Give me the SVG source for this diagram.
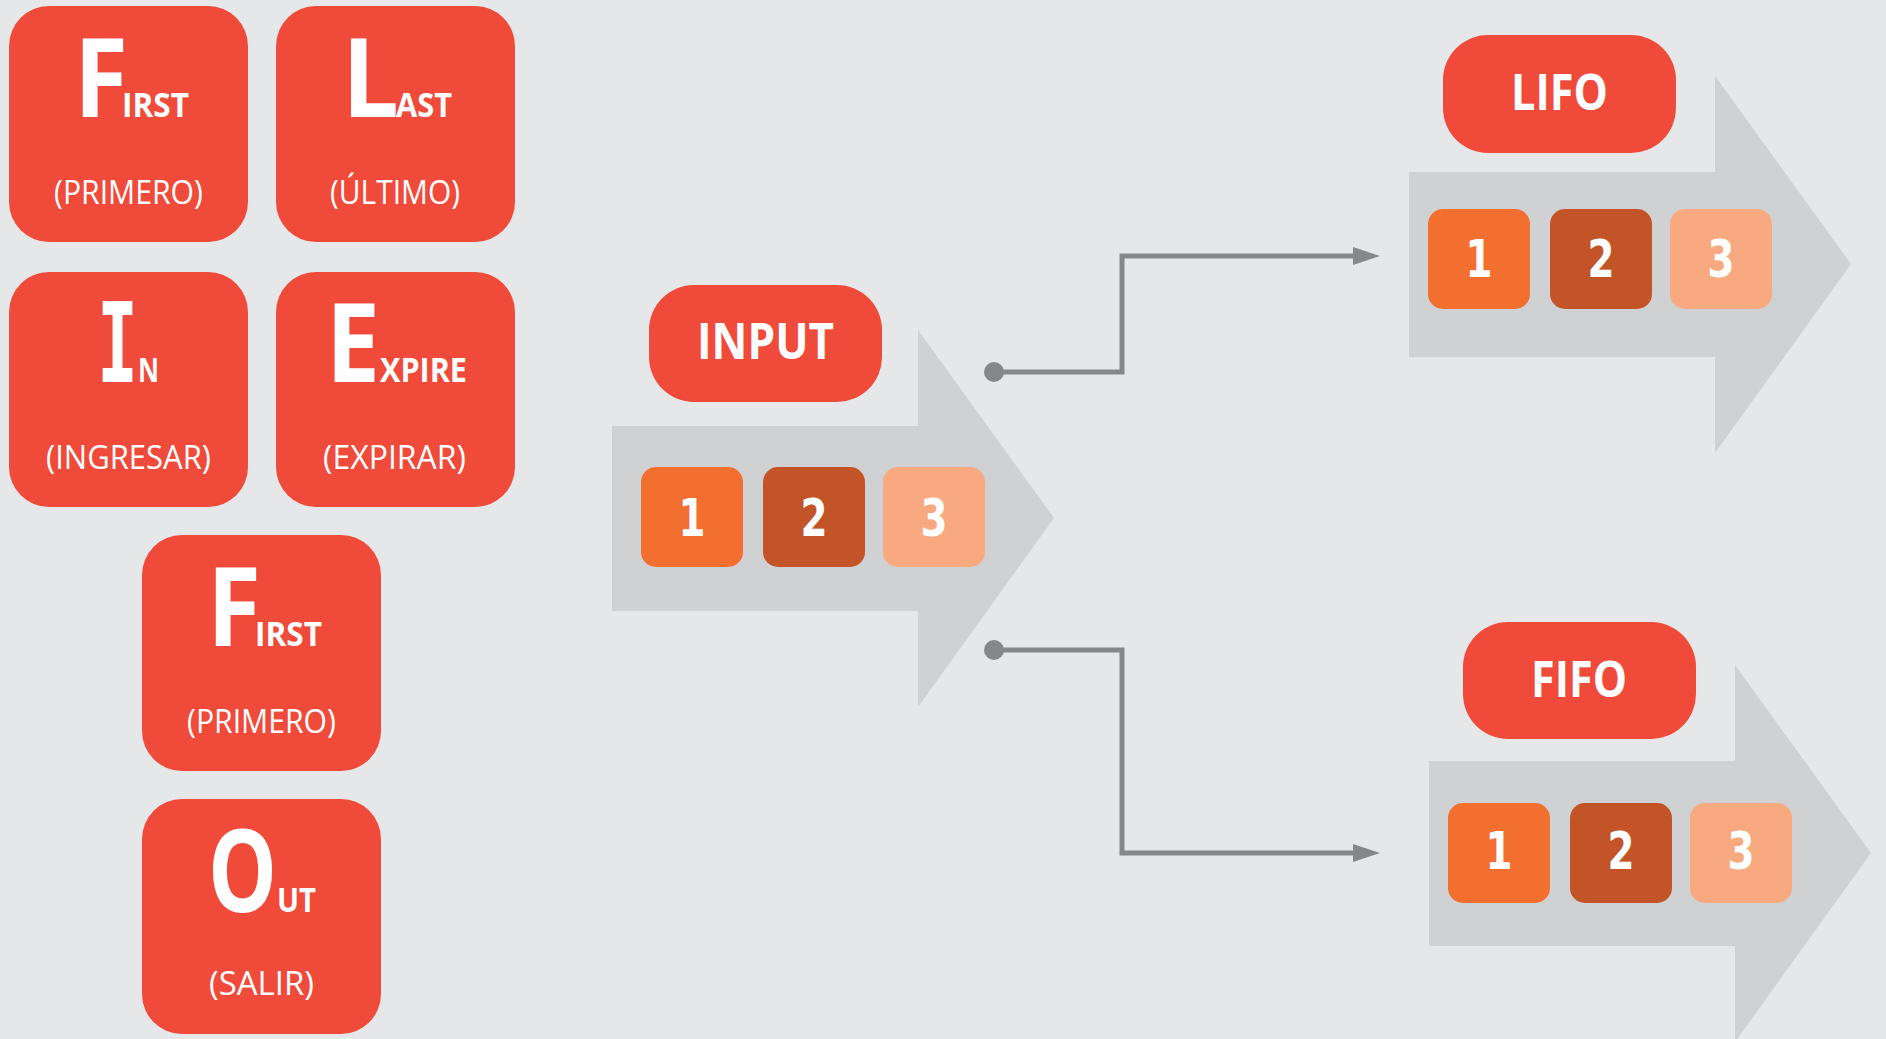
<svg xmlns="http://www.w3.org/2000/svg" xmlns:xlink="http://www.w3.org/1999/xlink" width="1886" height="1039" viewBox="0 0 1886 1039">
<style>
.card{fill:#f04b3a}
.big{fill:#fff;font-family:"Open Sans","Liberation Sans",sans-serif;font-weight:700;font-size:110px}
.bigm{fill:#fff;font-family:"DejaVu Sans Mono","Liberation Mono",monospace;font-weight:700;font-size:110px}
.sc{fill:#fff;font-family:"Open Sans","Liberation Sans",sans-serif;font-weight:700;font-size:34px}
.sub{fill:#fff;font-family:"Open Sans","Liberation Sans",sans-serif;font-weight:400;font-size:33px}
.lbl{fill:#fff;font-family:"Open Sans","Liberation Sans",sans-serif;font-weight:700;font-size:50px}
.num{fill:#fff;font-family:"DejaVu Sans","Liberation Sans",sans-serif;font-weight:700;font-size:52px;text-anchor:middle}
.band{fill:#d0d1d3}
.t1{fill:#f26f30}.t2{fill:#c25427}.t3{fill:#f8a97f}
.conn{fill:none;stroke:#85878a;stroke-width:5}
.dot{fill:#85878a}
</style>
<defs>
<path id="arr" d="M0,0 H306 V-96 L442,92 L306,281 V185 H0 Z"/>
<marker id="head" markerUnits="userSpaceOnUse" markerWidth="27" markerHeight="20" refX="0" refY="10" orient="auto">
<path d="M0,1 L27,10 L0,19 Z" fill="#85878a"/>
</marker>
</defs>
<rect width="1886" height="1039" fill="#e6e7e9"/>

<g id="card-first">
<rect class="card" x="9" y="6" width="239" height="236" rx="40"/>
<text y="117"><tspan class="big" x="74" textLength="54" lengthAdjust="spacingAndGlyphs">F</tspan><tspan class="sc" x="122" textLength="67" lengthAdjust="spacingAndGlyphs">IRST</tspan></text>
<text class="sub" x="54" y="204" textLength="149" lengthAdjust="spacingAndGlyphs">(PRIMERO)</text>
</g>
<g id="card-last">
<rect class="card" x="276" y="6" width="239" height="236" rx="40"/>
<text y="117"><tspan class="big" x="342" textLength="57" lengthAdjust="spacingAndGlyphs">L</tspan><tspan class="sc" x="396" textLength="56" lengthAdjust="spacingAndGlyphs">AST</tspan></text>
<text class="sub" x="330" y="204" textLength="130" lengthAdjust="spacingAndGlyphs">(ÚLTIMO)</text>
</g>
<g id="card-in">
<rect class="card" x="9" y="272" width="239" height="235" rx="40"/>
<text y="382"><tspan class="bigm" x="97" textLength="41" lengthAdjust="spacingAndGlyphs">I</tspan><tspan class="sc" x="138" textLength="21" lengthAdjust="spacingAndGlyphs">N</tspan></text>
<text class="sub" x="46" y="469" textLength="165" lengthAdjust="spacingAndGlyphs">(INGRESAR)</text>
</g>
<g id="card-expire">
<rect class="card" x="276" y="272" width="239" height="235" rx="40"/>
<text y="382"><tspan class="big" x="326" textLength="54" lengthAdjust="spacingAndGlyphs">E</tspan><tspan class="sc" x="380" textLength="87" lengthAdjust="spacingAndGlyphs">XPIRE</tspan></text>
<text class="sub" x="323" y="469" textLength="143" lengthAdjust="spacingAndGlyphs">(EXPIRAR)</text>
</g>
<g id="card-first2">
<rect class="card" x="142" y="535" width="239" height="236" rx="40"/>
<text y="646"><tspan class="big" x="207" textLength="54" lengthAdjust="spacingAndGlyphs">F</tspan><tspan class="sc" x="255" textLength="67" lengthAdjust="spacingAndGlyphs">IRST</tspan></text>
<text class="sub" x="187" y="733" textLength="149" lengthAdjust="spacingAndGlyphs">(PRIMERO)</text>
</g>
<g id="card-out">
<rect class="card" x="142" y="799" width="239" height="235" rx="40"/>
<text y="912"><tspan class="big" x="208" textLength="69" lengthAdjust="spacingAndGlyphs" style="font-size:114px">O</tspan><tspan class="sc" x="277" textLength="39" lengthAdjust="spacingAndGlyphs">UT</tspan></text>
<text class="sub" x="209" y="995" textLength="105" lengthAdjust="spacingAndGlyphs">(SALIR)</text>
</g>

<g id="input">
<use xlink:href="#arr" href="#arr" class="band" x="612" y="426"/>
<rect class="card" x="649" y="285" width="233" height="117" rx="45"/>
<text class="lbl" x="697" y="359" textLength="137" lengthAdjust="spacingAndGlyphs">INPUT</text>
<rect class="t1" x="641" y="467" width="102" height="100" rx="15"/>
<rect class="t2" x="763" y="467" width="102" height="100" rx="15"/>
<rect class="t3" x="883" y="467" width="102" height="100" rx="15"/>
<text class="num" x="692" y="536" textLength="27" lengthAdjust="spacingAndGlyphs">1</text>
<text class="num" x="814" y="536" textLength="27" lengthAdjust="spacingAndGlyphs">2</text>
<text class="num" x="934" y="536" textLength="27" lengthAdjust="spacingAndGlyphs">3</text>
</g>

<g id="lifo">
<use xlink:href="#arr" href="#arr" class="band" x="1409" y="172"/>
<rect class="card" x="1443" y="35" width="233" height="118" rx="45"/>
<text class="lbl" x="1511" y="110" textLength="97" lengthAdjust="spacingAndGlyphs">LIFO</text>
<rect class="t1" x="1428" y="209" width="102" height="100" rx="15"/>
<rect class="t2" x="1550" y="209" width="102" height="100" rx="15"/>
<rect class="t3" x="1670" y="209" width="102" height="100" rx="15"/>
<text class="num" x="1479" y="277" textLength="27" lengthAdjust="spacingAndGlyphs">1</text>
<text class="num" x="1601" y="277" textLength="27" lengthAdjust="spacingAndGlyphs">2</text>
<text class="num" x="1721" y="277" textLength="27" lengthAdjust="spacingAndGlyphs">3</text>
</g>

<g id="fifo">
<use xlink:href="#arr" href="#arr" class="band" x="1429" y="761"/>
<rect class="card" x="1463" y="622" width="233" height="117" rx="45"/>
<text class="lbl" x="1531" y="697" textLength="96" lengthAdjust="spacingAndGlyphs">FIFO</text>
<rect class="t1" x="1448" y="803" width="102" height="100" rx="15"/>
<rect class="t2" x="1570" y="803" width="102" height="100" rx="15"/>
<rect class="t3" x="1690" y="803" width="102" height="100" rx="15"/>
<text class="num" x="1499" y="869" textLength="27" lengthAdjust="spacingAndGlyphs">1</text>
<text class="num" x="1621" y="869" textLength="27" lengthAdjust="spacingAndGlyphs">2</text>
<text class="num" x="1741" y="869" textLength="27" lengthAdjust="spacingAndGlyphs">3</text>
</g>

<g id="connectors">
<path class="conn" d="M994,372 H1122 V256 H1353" marker-end="url(#head)"/>
<path class="conn" d="M994,650 H1122 V853 H1353" marker-end="url(#head)"/>
<circle class="dot" cx="994" cy="372" r="10"/>
<circle class="dot" cx="994" cy="650" r="10"/>
</g>
</svg>
